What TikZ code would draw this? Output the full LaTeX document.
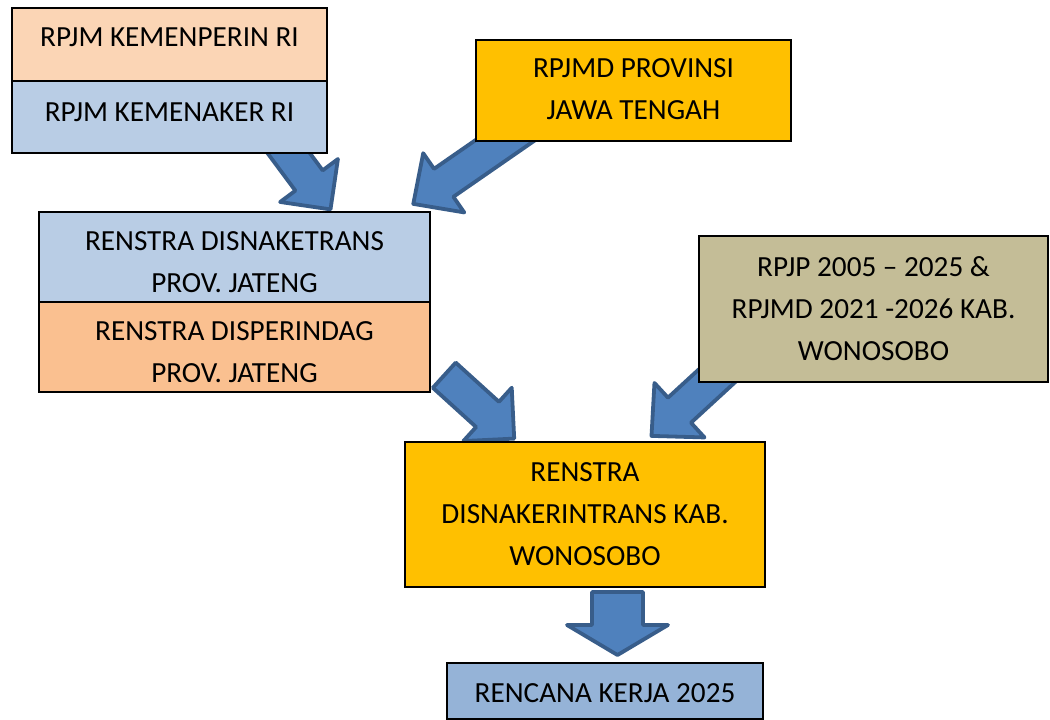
\documentclass[tikz,border=0pt]{standalone}
\usepackage{fontspec}
\setmainfont{Carlito}
\usetikzlibrary{calc,backgrounds}
\definecolor{peach}{HTML}{FBD5B5}
\definecolor{lblue}{HTML}{B9CDE5}
\definecolor{orng}{HTML}{FAC090}
\definecolor{gold}{HTML}{FFC000}
\definecolor{khaki}{HTML}{C4BD97}
\definecolor{mblue}{HTML}{95B3D7}
\definecolor{afill}{HTML}{4F81BD}
\definecolor{aline}{HTML}{385D8A}
% block arrow: #1 start, #2 tip, #3 shaft half width, #4 head half width, #5 head length
\newcommand{\blockarrow}[5]{%
  \path ($(#2)!#5!(#1)$) coordinate (hb);
  \draw[barrow] ($(#1)!#3!90:(#2)$) -- ($(hb)!#3!90:(#2)$) -- ($(hb)!#4!90:(#2)$) -- (#2)
    -- ($(hb)!#4!-90:(#2)$) -- ($(hb)!#3!-90:(#2)$) -- ($(#1)!#3!-90:(#2)$) -- cycle;}
\begin{document}
\begin{tikzpicture}[x=1pt,y=-1pt,
  box/.style={draw=black, line width=2.2pt, inner sep=0pt, outer sep=0pt, anchor=north west},
  lbl/.style={anchor=north, inner sep=0pt, align=center, font=\fontsize{29.2}{42}\selectfont},
  barrow/.style={fill=afill, draw=aline, line width=3.8pt, line join=round}]
\useasboundingbox (0,0) rectangle (1050,720);
% boxes
\node[box, fill=peach, minimum width=315pt, minimum height=73pt] (b1) at (12,8) {};
\node[box, fill=lblue, minimum width=315pt, minimum height=72pt] (b2) at (12,81) {};
\node[box, fill=gold,  minimum width=315pt, minimum height=101pt] (b5) at (476,40) {};
\node[box, fill=lblue, minimum width=391pt, minimum height=90pt] (b3) at (39,212) {};
\node[box, fill=orng,  minimum width=391pt, minimum height=90pt] (b4) at (39,302) {};
\node[box, fill=khaki, minimum width=349pt, minimum height=146pt] (b6) at (699,236) {};
\node[box, fill=gold,  minimum width=360pt, minimum height=145pt] (b7) at (405,442) {};
\node[box, fill=mblue, minimum width=316pt, minimum height=56pt] (b8) at (447,663) {};
% texts
\node[lbl] (t1) at ($(b1.north)+(0,19.5)$) {RPJM KEMENPERIN RI};
\node[lbl] (t2) at ($(b2.north)+(0,21.5)$) {RPJM KEMENAKER RI};
\node[lbl] (t5) at ($(b5.north)+(0,18.5)$) {RPJMD PROVINSI\\JAWA TENGAH};
\node[lbl] (t3) at ($(b3.north)+(0,19.5)$) {RENSTRA DISNAKETRANS\\PROV. JATENG};
\node[lbl] (t4) at ($(b4.north)+(0,19.5)$) {RENSTRA DISPERINDAG\\PROV. JATENG};
\node[lbl] (t6) at ($(b6.north)+(0,20)$) {RPJP 2005 – 2025 \&\\RPJMD 2021 -2026 KAB.\\WONOSOBO};
\node[lbl] (t7) at ($(b7.north)+(0,20.5)$) {RENSTRA\\DISNAKERINTRANS KAB.\\WONOSOBO};
\node[lbl] (t8) at ($(b8.north)+(0,20)$) {RENCANA KERJA 2025};
% arrow end points
\coordinate (a1s) at ($(b2.south east)+(-55.5,-23)$);
\coordinate (a1t) at ($(b3.north west)+(291.5,-2.6)$);
\coordinate (a2s) at ($(b5.south west)+(50.5,-15.5)$);
\coordinate (a2t) at ($(b3.north east)+(-16.7,-8.1)$);
\coordinate (a3s) at ($(b4.north east)+(14.3,73.2)$);
\coordinate (a3t) at ($(b7.north west)+(109.2,-3.4)$);
\coordinate (a4s) at ($(b6.south west)+(40.8,-27.2)$);
\coordinate (a4t) at ($(b7.north east)+(-113.5,-6.1)$);
\coordinate (a5s) at ($(b7.south west)+(212.5,5)$);
\coordinate (a5t) at ($(b8.north west)+(170.5,-8)$);
\begin{pgfonlayer}{background}
\blockarrow{a1s}{a1t}{17pt}{36pt}{36pt}
\blockarrow{a2s}{a2t}{17pt}{36pt}{37pt}
\blockarrow{a3s}{a3t}{17pt}{36pt}{36pt}
\blockarrow{a4s}{a4t}{17pt}{37pt}{38pt}
\blockarrow{a5s}{a5t}{25.5pt}{50.5pt}{30pt}
\end{pgfonlayer}
\end{tikzpicture}
\end{document}
